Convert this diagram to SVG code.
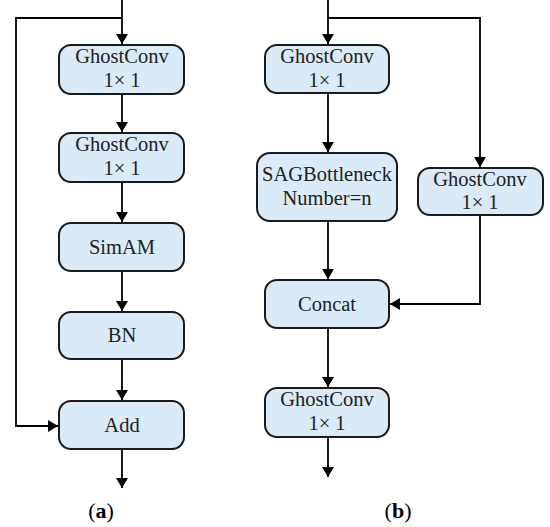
<svg xmlns="http://www.w3.org/2000/svg" width="550" height="527" viewBox="0 0 550 527">
<style>
.box{fill:#dbeaf7;stroke:#1a1a1a;stroke-width:2}
.t{font-family:"Liberation Serif","Times New Roman",serif;font-size:20.5px;fill:#222;text-anchor:middle}
.c{fill:none;stroke:#000;stroke-width:1.8}
.lbl{font-family:"Liberation Serif","Times New Roman",serif;font-size:22px;fill:#000;text-anchor:middle}
</style>
<defs>
<marker id="ah" markerWidth="10" markerHeight="12" refX="10" refY="6" orient="auto" markerUnits="userSpaceOnUse">
<path d="M0,0 L10,6 L0,12 Z" fill="#000"/>
</marker>
</defs>
<rect width="550" height="527" fill="#fff"/>
<g id="connectors">
<path class="c" d="M122,0 V44" marker-end="url(#ah)"/>
<path class="c" d="M122,18 H16 V426 H58" marker-end="url(#ah)"/>
<path class="c" d="M122,94 V132" marker-end="url(#ah)"/>
<path class="c" d="M122,182 V222" marker-end="url(#ah)"/>
<path class="c" d="M122,271 V311" marker-end="url(#ah)"/>
<path class="c" d="M122,359 V400" marker-end="url(#ah)"/>
<path class="c" d="M122,449 V488" marker-end="url(#ah)"/>
<path class="c" d="M328,0 V44" marker-end="url(#ah)"/>
<path class="c" d="M328,18 H480 V167" marker-end="url(#ah)"/>
<path class="c" d="M328,93 V152" marker-end="url(#ah)"/>
<path class="c" d="M328,221 V279" marker-end="url(#ah)"/>
<path class="c" d="M480,215 V304 H390" marker-end="url(#ah)"/>
<path class="c" d="M328,328 V387" marker-end="url(#ah)"/>
<path class="c" d="M328,437 V477" marker-end="url(#ah)"/>
</g>
<g id="a-ghost1"><rect class="box" x="59" y="45" width="125" height="49" rx="12"/><text class="t" x="122" y="63">GhostConv</text><text class="t" x="122" y="87">1× 1</text></g>
<g id="a-ghost2"><rect class="box" x="59" y="133" width="125" height="49" rx="12"/><text class="t" x="122" y="151">GhostConv</text><text class="t" x="122" y="175">1× 1</text></g>
<g id="a-simam"><rect class="box" x="59" y="223" width="125" height="48" rx="12"/><text class="t" x="122" y="254">SimAM</text></g>
<g id="a-bn"><rect class="box" x="59" y="312" width="125" height="47" rx="12"/><text class="t" x="122" y="342">BN</text></g>
<g id="a-add"><rect class="box" x="59" y="401" width="125" height="48" rx="12"/><text class="t" x="122" y="432">Add</text></g>
<g id="b-ghost1"><rect class="box" x="265" y="45" width="124" height="48" rx="12"/><text class="t" x="327" y="63">GhostConv</text><text class="t" x="327" y="87">1× 1</text></g>
<g id="b-sag"><rect class="box" x="257" y="153" width="140" height="68" rx="13"/><text class="t" x="327" y="181">SAGBottleneck</text><text class="t" x="327" y="205">Number=n</text></g>
<g id="b-ghost2"><rect class="box" x="418" y="168" width="125" height="47" rx="12"/><text class="t" x="480" y="186">GhostConv</text><text class="t" x="480" y="209">1× 1</text></g>
<g id="b-concat"><rect class="box" x="265" y="280" width="124" height="48" rx="12"/><text class="t" x="327" y="311">Concat</text></g>
<g id="b-ghost3"><rect class="box" x="265" y="388" width="124" height="49" rx="12"/><text class="t" x="327" y="406">GhostConv</text><text class="t" x="327" y="430">1× 1</text></g>
<text class="lbl" x="101" y="518">(<tspan font-weight="bold">a</tspan>)</text>
<text class="lbl" x="398" y="518">(<tspan font-weight="bold">b</tspan>)</text>
</svg>
